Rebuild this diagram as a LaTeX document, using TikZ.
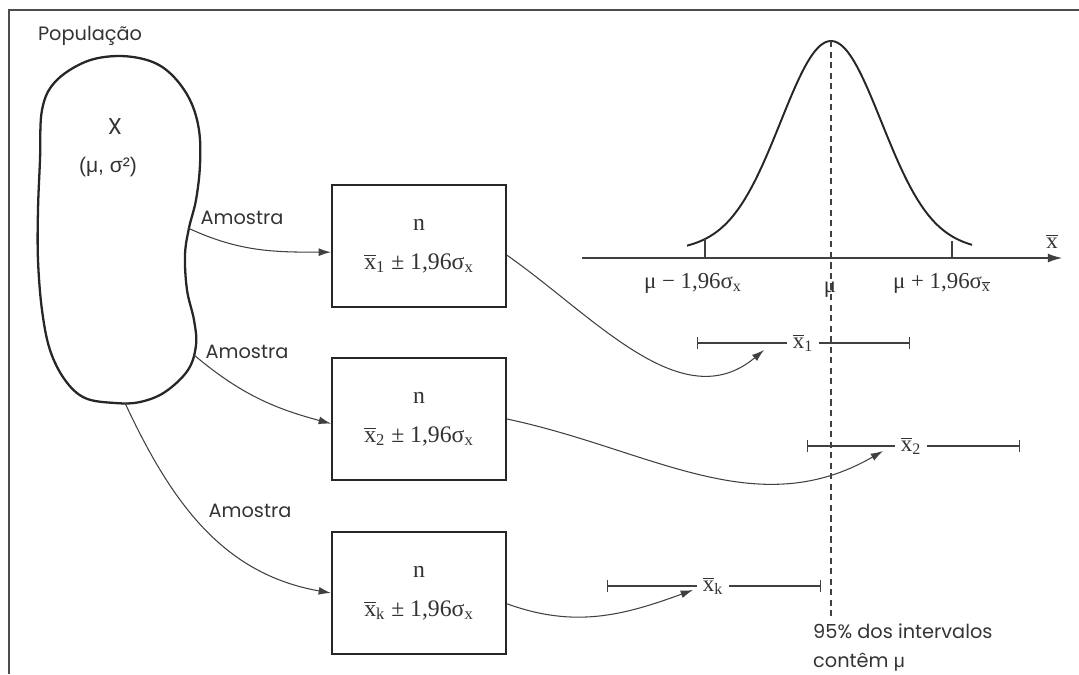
\documentclass[tikz,border=0pt]{standalone}
\usepackage{fontspec}
\setsansfont{Poppins}
\newfontfamily\rmtimes{Liberation Serif}
\newfontfamily\lsans{Liberation Sans}
\usetikzlibrary{arrows.meta}
\newcommand\xb{\ensuremath{\overline{\mbox{x}}}}
\tikzset{
  lbl/.style={font=\sffamily\fontsize{11}{13}\selectfont, text=black!80},
  smp/.style={draw=black!85, line width=1.2pt, minimum width=3.48cm,
    minimum height=2.44cm, align=center, text=black!80,
    font=\rmtimes\fontsize{13.5}{15}\selectfont},
  con/.style={draw=black!75, line width=0.6pt, -{Latex[length=7pt,width=4.5pt]}},
  ivl/.style={draw=black!75, line width=0.6pt},
  val/.style={font=\rmtimes\fontsize{13}{15}\selectfont, text=black!80},
}
\begin{document}
\begin{tikzpicture}[x=0.02cm, y=-0.02cm]
  \useasboundingbox (0,0) rectangle (1079,674);
  \draw[black!70, line width=0.6pt] (1079,10) -- (9,10) -- (9,674);
  % population
  \node[lbl] (pop) at (90,36) {População};
  \draw[black!85, line width=1.3pt] plot[smooth cycle, tension=0.6] coordinates {
    (118,56) (150,61) (172,75) (190,100) (199,130) (200,165) (196,200)
    (189,228) (185,255) (187,290) (194,320) (196,345) (188,370) (165,392)
    (140,402) (115,403) (85,398) (65,380) (50,350) (42,310) (38,260)
    (38,210) (40,160) (42,110) (55,82) (85,62)};
  \node[font=\sffamily\fontsize{13}{15}\selectfont, text=black!80] (X) at (115,127) {X};
  \node[font=\lsans\fontsize{12}{14}\selectfont, text=black!80] (par) at (108,167) {(μ, σ²)};
  \coordinate (s1) at (188,228);
  \coordinate (s2) at (194,355);
  \coordinate (s3) at (125,403);
  % samples
  \node[smp] (b1) at (419,246) {n\\[7pt]\xb\textsubscript{1} ± 1,96σ\textsubscript{x}};
  \node[smp] (b2) at (419,419) {n\\[7pt]\xb\textsubscript{2} ± 1,96σ\textsubscript{x}};
  \node[smp] (b3) at (419,593) {n\\[7pt]\xb\textsubscript{k} ± 1,96σ\textsubscript{x}};
  \node[lbl] (am1) at (242,218) {Amostra};
  \node[lbl] (am2) at (247,352) {Amostra};
  \node[lbl] (am3) at (250,511) {Amostra};
  \draw[con] (s1) to[out=-25, in=180] (b1.184);
  \draw[con] (s2) to[out=-40, in=165] (b2.183);
  \draw[con] (s3) to[out=-65, in=170] (b3.west);
  % sampling distribution
  \coordinate (ax0) at (582,258);
  \coordinate (ax1) at (1062,258);
  \draw[ivl, -{Latex[length=8pt,width=5pt]}] (ax0) -- (ax1);
  \node[val] (xbar) at (1052,241) {\xb};
  \draw[black!85, line width=1.1pt] plot[domain=-144:141, samples=90, smooth]
    ({831+\x}, {258-200*exp(-0.5*(\x/50)*(\x/50))-17*exp(-0.5*(\x/130)*(\x/130))});
  \draw[ivl] (705,239) -- (705,258);
  \draw[ivl] (952,241) -- (952,258);
  \node[val] (lo) at (693,283) {μ − 1,96σ\textsubscript{x}};
  \node[val] (mu) at (830,290) {μ};
  \node[val] (hi) at (942,283) {μ + 1,96σ\textsubscript{\xb}};
  \coordinate (mutop) at (831,41);
  \coordinate (mubot) at (831,618);
  \draw[black!75, line width=0.6pt, dash pattern=on 3.5pt off 2.5pt] (mutop) -- (mubot);
  % intervals
  \node[val] (xb1) at (803,343) {\xb\textsubscript{1}};
  \node[val] (xb2) at (911,446) {\xb\textsubscript{2}};
  \node[val] (xbk) at (713,586) {\xb\textsubscript{k}};
  \draw[ivl, {Bar[width=7pt]}-] (697,343) -- (xb1.west);
  \draw[ivl, -{Bar[width=7pt]}] (xb1.east) -- (910,343);
  \draw[ivl, {Bar[width=7pt]}-] (807,446) -- (xb2.west);
  \draw[ivl, -{Bar[width=7pt]}] (xb2.east) -- (1020,446);
  \draw[ivl, {Bar[width=7pt]}-] (607,586) -- (xbk.west);
  \draw[ivl, -{Bar[width=7pt]}] (xbk.east) -- (821,586);
  \coordinate (t1) at (764,350);
  \coordinate (t2) at (883,451);
  \coordinate (t3) at (693,590);
  \draw[con] (b1.-6) to[out=-35, in=-140] (t1);
  \draw[con] (b2.east) to[out=-12, in=-150] (t2);
  \draw[con] (b3.-7) to[out=-20, in=-160] (t3);
  \node[lbl, align=left, anchor=north west, font=\sffamily\fontsize{11}{16}\selectfont]
    (note) at (807,618) {95\% dos intervalos\\contêm {\lsans μ}};
\end{tikzpicture}
\end{document}
